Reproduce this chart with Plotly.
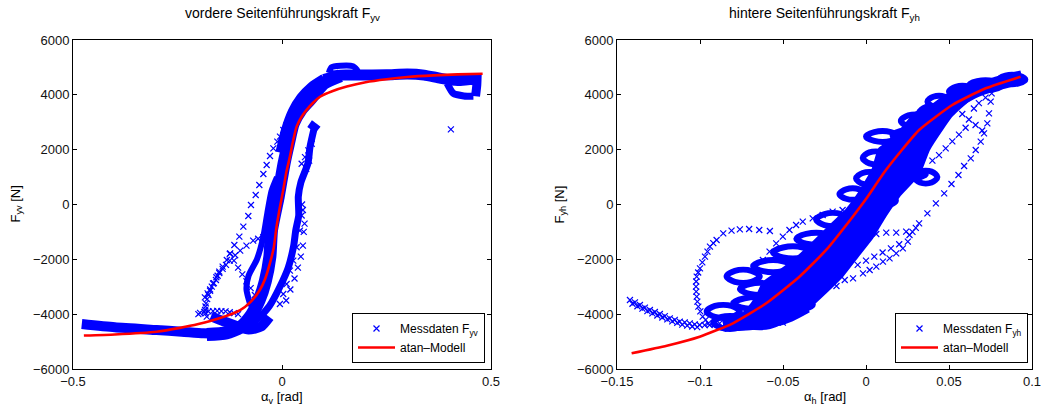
import plotly.graph_objects as go

BLUE = "#0000ff"
RED = "#ff0000"
FONT = "Liberation Sans, Arial, Helvetica, sans-serif"

# ---------------- front axle: alpha_v [rad], F_yv [N] ----------------
front_model = [(-0.474, -4780), (-0.40, -4740), (-0.30, -4640), (-0.244, -4500),
               (-0.20, -4360), (-0.15, -4150), (-0.10, -3850), (-0.075, -3550),
               (-0.053, -3120), (-0.04, -2700), (-0.029, -2150), (-0.02, -1600),
               (-0.013, -810), (-0.005, -100), (0.003, 530), (0.01, 1150),
               (0.019, 1750), (0.027, 2350), (0.035, 2840), (0.047, 3200),
               (0.059, 3450), (0.075, 3720), (0.091, 3930), (0.12, 4130),
               (0.155, 4300), (0.20, 4460), (0.25, 4570), (0.30, 4650),
               (0.363, 4710), (0.42, 4745), (0.48, 4770)]

# dense measurement bands (centre lines)
front_band_main = [(-0.18, -4740), (-0.133, -4680), (-0.10, -4480), (-0.077, -4117),
                   (-0.055, -3500), (-0.04, -2800), (-0.029, -1900), (-0.025, -930),
                   (-0.009, 285), (0.005, 1500), (0.015, 2200), (0.027, 2960),
                   (0.045, 3450), (0.066, 3811), (0.10, 4420), (0.14, 4700)]
front_band_upper = [(-0.005, 1900), (0.008, 2700), (0.025, 3400), (0.045, 3900),
                    (0.07, 4300), (0.10, 4600)]
front_band_right = [(0.078, 2850), (0.067, 2100), (0.062, 1500), (0.045, 800),
                    (0.039, 285), (0.040, -400), (0.033, -930), (0.028, -1500),
                    (0.015, -2300), (-0.005, -3000), (-0.03, -3700), (-0.06, -4200),
                    (-0.09, -4550)]
front_band_left = [(-0.012, 1000), (-0.025, 500), (-0.035, -300), (-0.045, -1200),
                   (-0.06, -2000), (-0.08, -2600), (-0.085, -3100), (-0.075, -3700)]
front_band_low = [(-0.479, -4360), (-0.40, -4480), (-0.30, -4580), (-0.24, -4640),
                  (-0.188, -4700), (-0.14, -4720)]
front_band_low2 = [(-0.17, -4080), (-0.14, -4260), (-0.11, -4420), (-0.08, -4560),
                   (-0.05, -4450), (-0.03, -4100)]
front_band_top = [(0.10, 4560), (0.14, 4720), (0.18, 4720), (0.25, 4730),
                  (0.30, 4760), (0.34, 4720), (0.38, 4600), (0.42, 4520),
                  (0.45, 4560), (0.472, 4550)]
front_band_hump = [(0.112, 4800), (0.118, 5000), (0.14, 5060), (0.17, 5040),
                   (0.18, 4900), (0.175, 4790), (0.14, 4780), (0.115, 4800)]
front_band_end = [(0.395, 4420), (0.41, 4050), (0.435, 3960), (0.458, 3950)]
front_band_block = [(0.463, 3950), (0.466, 4350), (0.467, 4780)]
front_block = [(0.066, 2950), (0.078, 2820), (0.086, 2720)]

# sparse measurement points
front_diag = [(-0.180, -4090), (-0.183, -3970), (-0.184, -3847), (-0.183, -3720),
              (-0.182, -3604), (-0.179, -3450), (-0.176, -3300), (-0.172, -3150),
              (-0.168, -2997), (-0.163, -2870), (-0.158, -2753), (-0.154, -2600),
              (-0.150, -2450), (-0.142, -2268), (-0.132, -2024), (-0.124, -1781),
              (-0.114, -1477), (-0.102, -1174), (-0.0925, -808), (-0.0806, -419),
              (-0.0742, -18), (-0.0629, 346), (-0.0542, 711), (-0.0446, 1112),
              (-0.0367, 1441), (-0.0287, 1769), (-0.0207, 2049), (-0.0112, 2292),
              (-0.0048, 2474), (0.0032, 2717), (0.0112, 2899)]
front_cross = [(-0.1845, -3386), (-0.178, -3240), (-0.172, -3100), (-0.165, -2880),
               (-0.157, -2655), (-0.150, -2500), (-0.142, -2350), (-0.134, -2200),
               (-0.125, -2046), (-0.112, -1850), (-0.100, -1681), (-0.085, -1500),
               (-0.069, -1315), (-0.057, -1250), (-0.045, -1194)]
front_down = [(-0.125, -1800), (-0.115, -2050), (-0.105, -2300), (-0.095, -2550),
              (-0.085, -2800), (-0.075, -3050), (-0.065, -3300), (-0.058, -3500)]
front_flat = [(-0.200, -4000), (-0.196, -3950), (-0.186, -3920), (-0.176, -3900),
              (-0.165, -3890), (-0.155, -3880), (-0.145, -3890), (-0.135, -3900),
              (-0.125, -3930), (-0.115, -3960), (-0.105, -4000)]
front_lobe = [(0.047, -400), (0.048, 0), (0.043, -950), (0.035, -1559),
              (0.027, -2046), (0.019, -2412), (0.011, -2899), (0.003, -3264),
              (-0.005, -3630), (0.050, -1500), (0.045, -1900), (0.038, -2300),
              (0.030, -2700), (0.020, -3100), (0.010, -3500), (0.052, -1000),
              (0.054, -700), (0.050, -200)]
front_upper = [(0.047, 1486), (0.055, 1730), (0.063, 1973), (0.071, 2217),
               (0.058, 1300), (0.065, 1600)]
front_outlier = [(0.404, 2740)]

# ---------------- rear axle: alpha_h [rad], F_yh [N] ----------------
rear_model = [(-0.1412, -5427), (-0.12, -5150), (-0.1002, -4821), (-0.0802, -4333),
              (-0.0601, -3603), (-0.0401, -2633), (-0.024, -1659), (-0.008, -445),
              (0.0, 200), (0.012, 1258), (0.032, 2717), (0.052, 3629),
              (0.0721, 4238), (0.0931, 4661)]

# outline of the most densely covered core
rear_dense = [(-0.082, -4560), (-0.080, -4250), (-0.072, -3850), (-0.066, -3350),
              (-0.062, -2850), (-0.054, -2500), (-0.044, -2050), (-0.034, -1500),
              (-0.024, -900), (-0.012, -200), (-0.004, 450), (0.004, 1300),
              (0.008, 2050), (0.016, 2350), (0.022, 2800), (0.030, 3350),
              (0.038, 3550), (0.046, 3900), (0.056, 4250), (0.070, 4480),
              (0.086, 4650), (0.096, 4600), (0.088, 4450), (0.074, 4220),
              (0.062, 3800), (0.052, 3250), (0.046, 2750), (0.038, 2000),
              (0.032, 1100), (0.020, 300), (0.012, -400), (0.004, -1200),
              (-0.005, -1900), (-0.014, -2600), (-0.024, -3200), (-0.034, -3750),
              (-0.044, -4150), (-0.054, -4400), (-0.068, -4520), (-0.082, -4560)]
rear_band_main = [(-0.086, -4400), (-0.070, -4150), (-0.055, -3750), (-0.040, -3150),
                  (-0.028, -2500), (-0.016, -1700), (-0.006, -900), (0.004, 0),
                  (0.013, 900), (0.022, 1700), (0.032, 2450), (0.042, 3100),
                  (0.052, 3650), (0.064, 4100), (0.078, 4400), (0.094, 4640)]
rear_band_low = [(-0.086, -4480), (-0.070, -4440), (-0.055, -4320), (-0.045, -4120),
                 (-0.035, -3800)]

# looped measurement traces (closed oval paths)
rear_loops = [
    [(-0.092, -4300), (-0.087, -4100), (-0.077, -4100), (-0.072, -4300), (-0.077, -4500), (-0.087, -4500), (-0.092, -4300)],
    [(-0.076, -4250), (-0.070, -4070), (-0.058, -4070), (-0.052, -4250), (-0.058, -4430), (-0.070, -4430), (-0.076, -4250)],
    [(-0.096, -3900), (-0.091, -3700), (-0.081, -3700), (-0.076, -3900), (-0.081, -4100), (-0.091, -4100), (-0.096, -3900)],
    [(-0.080, -3600), (-0.073, -3420), (-0.059, -3420), (-0.052, -3600), (-0.059, -3780), (-0.073, -3780), (-0.080, -3600)],
    [(-0.056, -3650), (-0.050, -3470), (-0.038, -3470), (-0.032, -3650), (-0.038, -3830), (-0.050, -3830), (-0.056, -3650)],
    [(-0.084, -2620), (-0.079, -2420), (-0.069, -2420), (-0.064, -2620), (-0.069, -2820), (-0.079, -2820), (-0.084, -2620)],
    [(-0.076, -3080), (-0.070, -2900), (-0.058, -2900), (-0.052, -3080), (-0.058, -3260), (-0.070, -3260), (-0.076, -3080)],
    [(-0.054, -3050), (-0.049, -2850), (-0.039, -2850), (-0.034, -3050), (-0.039, -3250), (-0.049, -3250), (-0.054, -3050)],
    [(-0.068, -2250), (-0.062, -2070), (-0.050, -2070), (-0.044, -2250), (-0.050, -2430), (-0.062, -2430), (-0.068, -2250)],
    [(-0.046, -2450), (-0.041, -2250), (-0.031, -2250), (-0.026, -2450), (-0.031, -2650), (-0.041, -2650), (-0.046, -2450)],
    [(-0.056, -1750), (-0.050, -1570), (-0.038, -1570), (-0.032, -1750), (-0.038, -1930), (-0.050, -1930), (-0.056, -1750)],
    [(-0.036, -1950), (-0.031, -1750), (-0.021, -1750), (-0.016, -1950), (-0.021, -2150), (-0.031, -2150), (-0.036, -1950)],
    [(-0.042, -1250), (-0.036, -1070), (-0.024, -1070), (-0.018, -1250), (-0.024, -1430), (-0.036, -1430), (-0.042, -1250)],
    [(-0.022, -1150), (-0.017, -950), (-0.007, -950), (-0.002, -1150), (-0.007, -1350), (-0.017, -1350), (-0.022, -1150)],
    [(-0.030, -550), (-0.025, -350), (-0.015, -350), (-0.010, -550), (-0.015, -750), (-0.025, -750), (-0.030, -550)],
    [(-0.014, -450), (-0.009, -250), (0.001, -250), (0.006, -450), (0.001, -650), (-0.009, -650), (-0.014, -450)],
    [(-0.016, 380), (-0.012, 550), (-0.004, 550), (0.000, 380), (-0.004, 210), (-0.012, 210), (-0.016, 380)],
    [(-0.002, 150), (0.003, 350), (0.013, 350), (0.018, 150), (0.013, -50), (0.003, -50), (-0.002, 150)],
    [(-0.006, 950), (-0.002, 1150), (0.006, 1150), (0.010, 950), (0.006, 750), (-0.002, 750), (-0.006, 950)],
    [(0.004, 1100), (0.012, 1270), (0.028, 1270), (0.036, 1100), (0.028, 930), (0.012, 930), (0.004, 1100)],
    [(0.029, 1000), (0.0325, 1200), (0.0395, 1200), (0.043, 1000), (0.0395, 800), (0.0325, 800), (0.029, 1000)],
    [(-0.002, 1700), (0.002, 1900), (0.010, 1900), (0.014, 1700), (0.010, 1500), (0.002, 1500), (-0.002, 1700)],
    [(0.012, 1800), (0.017, 2000), (0.027, 2000), (0.032, 1800), (0.027, 1600), (0.017, 1600), (0.012, 1800)],
    [(0.000, 2480), (0.005, 2640), (0.015, 2640), (0.020, 2480), (0.015, 2320), (0.005, 2320), (0.000, 2480)],
    [(0.016, 2520), (0.0205, 2680), (0.0295, 2680), (0.034, 2520), (0.0295, 2360), (0.0205, 2360), (0.016, 2520)],
    [(0.021, 3050), (0.0255, 3250), (0.0345, 3250), (0.039, 3050), (0.0345, 2850), (0.0255, 2850), (0.021, 3050)],
    [(0.037, 3750), (0.0405, 3930), (0.0475, 3930), (0.051, 3750), (0.0475, 3570), (0.0405, 3570), (0.037, 3750)],
    [(0.032, 3350), (0.036, 3550), (0.044, 3550), (0.048, 3350), (0.044, 3150), (0.036, 3150), (0.032, 3350)],
    [(0.050, 4120), (0.054, 4290), (0.062, 4290), (0.066, 4120), (0.062, 3950), (0.054, 3950), (0.050, 4120)],
    [(0.062, 4350), (0.067, 4500), (0.077, 4500), (0.082, 4350), (0.077, 4200), (0.067, 4200), (0.062, 4350)],
    [(0.080, 4560), (0.084, 4700), (0.092, 4700), (0.096, 4560), (0.092, 4420), (0.084, 4420), (0.080, 4560)],
]

rear_tail = [(-0.1422, -3483), (-0.1392, -3570), (-0.1362, -3665), (-0.1332, -3760),
             (-0.1302, -3848), (-0.1272, -3920), (-0.1242, -3993), (-0.1212, -4070),
             (-0.1182, -4152), (-0.1152, -4210), (-0.1122, -4274), (-0.1092, -4300),
             (-0.1062, -4334), (-0.1032, -4370), (-0.1002, -4395), (-0.0972, -4400),
             (-0.0942, -4395), (-0.0912, -4370), (-0.0882, -4334),
             (-0.1407, -3620), (-0.1377, -3710), (-0.1347, -3800), (-0.1317, -3890),
             (-0.1287, -3970), (-0.1257, -4050), (-0.1227, -4120), (-0.1197, -4190),
             (-0.1167, -4260), (-0.1137, -4320), (-0.1107, -4380), (-0.1077, -4420),
             (-0.1047, -4450), (-0.1017, -4470)]
rear_loop = [(-0.0950, -4333), (-0.0966, -4210), (-0.0984, -4091), (-0.0998, -3900),
             (-0.1010, -3726), (-0.1016, -3540), (-0.1020, -3361), (-0.1023, -3180),
             (-0.1024, -2997), (-0.1023, -2810), (-0.1020, -2632), (-0.1011, -2480),
             (-0.1000, -2327), (-0.0986, -2110), (-0.0970, -1903), (-0.0955, -1720),
             (-0.0940, -1538), (-0.0920, -1410), (-0.0900, -1295), (-0.0860, -1051),
             (-0.0810, -955), (-0.0760, -906), (-0.0704, -893), (-0.0643, -930),
             (-0.0579, -966)]
rear_diag = [(-0.0621, -2024), (-0.0581, -1721), (-0.0541, -1416), (-0.0501, -1173),
             (-0.0461, -930), (-0.0421, -748), (-0.0381, -626), (-0.0321, -504),
             (-0.0261, -383), (-0.0201, -262), (-0.0141, -201)]
rear_far = [(0.028, -1000), (0.030, -850), (0.0320, -687), (0.0370, -322),
            (0.0421, 43), (0.0471, 408), (0.0515, 748), (0.0557, 1076),
            (0.0591, 1404), (0.0631, 1683), (0.0661, 1988), (0.0691, 2292),
            (0.0711, 2596), (0.0731, 2961), (0.0741, 3326), (0.0751, 3751),
            (0.0757, 4055)]
rear_lobe = [(-0.0379, -3483), (-0.0299, -3180), (-0.0239, -2997), (-0.0178, -2972),
             (-0.0128, -2754), (-0.0078, -2693), (-0.0018, -2511), (0.0022, -2389),
             (0.0062, -2268), (0.0102, -2086), (0.0142, -1964), (0.0182, -1781),
             (0.0222, -1599), (0.0252, -1355), (0.0262, -1112), (0.0242, -990),
             (0.0182, -1027), (0.0122, -1027), (0.0062, -1076),
             (-0.005, -2200), (0.0, -2050), (0.005, -1900), (0.010, -1750),
             (0.015, -1600), (0.020, -1450)]
rear_side = [(0.040, 1600), (0.044, 1800), (0.048, 2050), (0.052, 2300),
             (0.056, 2550), (0.060, 2800), (0.058, 3300), (0.062, 3100),
             (0.066, 2900), (0.070, 2700), (0.065, 3500), (0.068, 3700),
             (0.072, 3900)]
rear_outlier = [(-0.0501, -4311)]


def xs(pts):
    return [p[0] for p in pts]


def ys(pts):
    return [p[1] for p in pts]


fig = go.Figure()


def band(pts, width, xa, ya, smoothing=0.6):
    fig.add_trace(go.Scatter(
        x=xs(pts), y=ys(pts), mode="lines", xaxis=xa, yaxis=ya,
        line=dict(color=BLUE, width=width, shape="spline", smoothing=smoothing),
        showlegend=False, hoverinfo="skip"))


# front axle bands
for pts, w in [(front_band_low, 10), (front_band_low2, 10), (front_band_main, 13),
               (front_band_upper, 9), (front_band_right, 7), (front_band_left, 6),
               (front_band_top, 11), (front_band_hump, 6), (front_band_end, 7),
               (front_band_block, 9), (front_block, 8)]:
    band(pts, w, "x", "y")

front_points = (front_diag + front_cross + front_down + front_flat + front_lobe
                + front_upper + front_outlier)
fig.add_trace(go.Scatter(
    x=xs(front_points), y=ys(front_points), mode="markers", xaxis="x", yaxis="y",
    marker=dict(symbol="x-thin", size=6, color=BLUE, line=dict(width=1.2, color=BLUE)),
    name="Messdaten F<sub>yv</sub>", legend="legend"))
fig.add_trace(go.Scatter(
    x=xs(front_model), y=ys(front_model), mode="lines", xaxis="x", yaxis="y",
    line=dict(color=RED, width=2.6, shape="spline", smoothing=0.5),
    name="atan–Modell", legend="legend"))

# rear axle: dense core, bands and loops
fig.add_trace(go.Scatter(
    x=xs(rear_dense), y=ys(rear_dense), mode="lines", xaxis="x2", yaxis="y2",
    fill="toself", fillcolor=BLUE,
    line=dict(color=BLUE, width=2, shape="spline", smoothing=0.5),
    showlegend=False, hoverinfo="skip"))
band(rear_band_main, 14, "x2", "y2")
band(rear_band_low, 8, "x2", "y2")
for pts in rear_loops:
    band(pts, 6, "x2", "y2", smoothing=1.0)

rear_points = (rear_tail + rear_loop + rear_diag + rear_far + rear_lobe
               + rear_side + rear_outlier)
fig.add_trace(go.Scatter(
    x=xs(rear_points), y=ys(rear_points), mode="markers", xaxis="x2", yaxis="y2",
    marker=dict(symbol="x-thin", size=6, color=BLUE, line=dict(width=1.2, color=BLUE)),
    name="Messdaten F<sub>yh</sub>", legend="legend2"))
fig.add_trace(go.Scatter(
    x=xs(rear_model), y=ys(rear_model), mode="lines", xaxis="x2", yaxis="y2",
    line=dict(color=RED, width=2.6, shape="spline", smoothing=0.5),
    name="atan–Modell", legend="legend2"))

y_ticks = [-6000, -4000, -2000, 0, 2000, 4000, 6000]
y_text = ["−6000", "−4000", "−2000", "0", "2000", "4000", "6000"]
fx_ticks = [-0.5, 0, 0.5]
fx_text = ["−0.5", "0", "0.5"]
rx_ticks = [-0.15, -0.1, -0.05, 0, 0.05, 0.1]
rx_text = ["−0.15", "−0.1", "−0.05", "0", "0.05", "0.1"]

axis_style = dict(showline=True, linecolor="black", linewidth=1, mirror="ticks",
                  ticks="inside", ticklen=4, tickcolor="black", showgrid=False,
                  zeroline=False, automargin=False,
                  tickfont=dict(family=FONT, size=13, color="#111"))

X0, X1 = 73 / 1045, 491 / 1045
X2, X3 = 617 / 1045, 1032 / 1045
Y0, Y1 = (405 - 369) / 405, (405 - 40) / 405

legend_style = dict(xanchor="right", yanchor="bottom", bgcolor="white",
                    bordercolor="black", borderwidth=1, itemwidth=37,
                    font=dict(family=FONT, size=12), tracegroupgap=0)

fig.update_layout(
    width=1045, height=405, margin=dict(l=0, r=0, t=0, b=0),
    paper_bgcolor="white", plot_bgcolor="white",
    font=dict(family=FONT, size=13, color="black"),
    xaxis=dict(domain=[X0, X1], range=[-0.5, 0.5], tickvals=fx_ticks, ticktext=fx_text,
               anchor="y", **axis_style),
    yaxis=dict(domain=[Y0, Y1], range=[-6000, 6000], tickvals=y_ticks, ticktext=y_text,
               anchor="x", **axis_style),
    xaxis2=dict(domain=[X2, X3], range=[-0.15, 0.1], tickvals=rx_ticks, ticktext=rx_text,
                anchor="y2", **axis_style),
    yaxis2=dict(domain=[Y0, Y1], range=[-6000, 6000], tickvals=y_ticks, ticktext=y_text,
                anchor="x2", **axis_style),
    legend=dict(x=485 / 1045, y=(405 - 363) / 405, **legend_style),
    legend2=dict(x=1028 / 1045, y=(405 - 363) / 405, **legend_style),
    showlegend=True,
)

titles = [
    ("vordere Seitenführungskraft F<sub>yv</sub>", (X0 + X1) / 2),
    ("hintere Seitenführungskraft F<sub>yh</sub>", (X2 + X3) / 2),
]
for text, x in titles:
    fig.add_annotation(text=text, x=x, y=1 - 14 / 405, xref="paper", yref="paper",
                       showarrow=False, xanchor="center", yanchor="middle",
                       font=dict(family=FONT, size=14, color="black"))

axis_labels = [
    ("α<sub>v</sub> [rad]", (X0 + X1) / 2, 1 - 397 / 405, 0),
    ("α<sub>h</sub> [rad]", (X2 + X3) / 2, 1 - 397 / 405, 0),
    ("F<sub>yv</sub> [N]", 16 / 1045, (Y0 + Y1) / 2, -90),
    ("F<sub>yh</sub> [N]", 560 / 1045, (Y0 + Y1) / 2, -90),
]
for text, x, y, ang in axis_labels:
    fig.add_annotation(text=text, x=x, y=y, xref="paper", yref="paper",
                       showarrow=False, xanchor="center", yanchor="middle",
                       textangle=ang, font=dict(family=FONT, size=13, color="black"))

fig.write_html("out.html")
